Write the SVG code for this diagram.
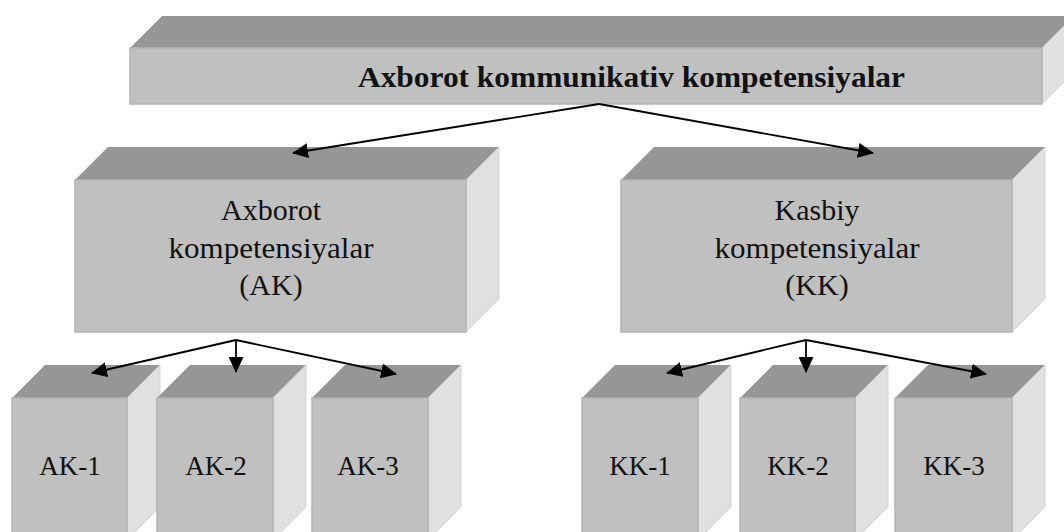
<svg xmlns="http://www.w3.org/2000/svg" width="1064" height="532" viewBox="0 0 1064 532">
<style>
.top{fill:#969696}
.front{fill:#c0c0c0;stroke:#b3b3b3;stroke-width:1.5}
.side{fill:#e0e0e0;stroke:#d4d4d4;stroke-width:1}
.lbl{font-family:"Liberation Serif","Times New Roman",serif;fill:#111;text-anchor:middle}
.mid{font-size:30px}
.sm{font-size:27px}
.conn line{stroke:#000;stroke-width:1.8;fill:none;marker-end:url(#arr)}
</style>
<defs>
<marker id="arr" viewBox="0 0 16 15" refX="15" refY="7.5" markerWidth="16" markerHeight="15" markerUnits="userSpaceOnUse" orient="auto">
<path d="M0,0 L16,7.5 L0,15 z" fill="#000"/>
</marker>
</defs>
<rect width="1064" height="532" fill="#fff"/>

<g id="node-root">
<polygon class="top" points="130,48 162,16 1074,16 1042,48"/>
<polygon class="side" points="1042,48 1074,16 1074,72 1042,104"/>
<rect class="front" x="130" y="48" width="912" height="56"/>
<text class="lbl" x="358" y="87" font-size="29" font-weight="bold" style="text-anchor:start" textLength="547" lengthAdjust="spacingAndGlyphs">Axborot kommunikativ kompetensiyalar</text>
</g>

<g id="node-ak">
<polygon class="top" points="75,180 108,147 499,147 466,180"/>
<polygon class="side" points="466,180 499,147 499,299 466,332"/>
<rect class="front" x="75" y="180" width="391" height="152"/>
<text class="lbl mid" x="271" y="220">Axborot</text>
<text class="lbl mid" x="271" y="258" textLength="205" lengthAdjust="spacingAndGlyphs">kompetensiyalar</text>
<text class="lbl mid" x="271" y="295">(AK)</text>
</g>

<g id="node-kk">
<polygon class="top" points="621,180 654,147 1045,147 1012,180"/>
<polygon class="side" points="1012,180 1045,147 1045,299 1012,332"/>
<rect class="front" x="621" y="180" width="391" height="152"/>
<text class="lbl mid" x="817" y="220">Kasbiy</text>
<text class="lbl mid" x="817" y="258" textLength="205" lengthAdjust="spacingAndGlyphs">kompetensiyalar</text>
<text class="lbl mid" x="817" y="295">(KK)</text>
</g>

<g id="node-ak1">
<polygon class="top" points="12,398 45,365 160,365 127,398"/>
<polygon class="side" points="127,398 160,365 160,507 127,540"/>
<rect class="front" x="12" y="398" width="115" height="142"/>
<text class="lbl sm" x="70" y="475">AK-1</text>
</g>
<g id="node-ak2">
<polygon class="top" points="157,398 190,365 306,365 273,398"/>
<polygon class="side" points="273,398 306,365 306,507 273,540"/>
<rect class="front" x="157" y="398" width="116" height="142"/>
<text class="lbl sm" x="216" y="475">AK-2</text>
</g>
<g id="node-ak3">
<polygon class="top" points="312,398 345,365 461,365 428,398"/>
<polygon class="side" points="428,398 461,365 461,507 428,540"/>
<rect class="front" x="312" y="398" width="116" height="142"/>
<text class="lbl sm" x="368" y="475">AK-3</text>
</g>

<g id="node-kk1">
<polygon class="top" points="582,398 615,365 731,365 698,398"/>
<polygon class="side" points="698,398 731,365 731,507 698,540"/>
<rect class="front" x="582" y="398" width="116" height="142"/>
<text class="lbl sm" x="640" y="475">KK-1</text>
</g>
<g id="node-kk2">
<polygon class="top" points="740,398 773,365 888,365 855,398"/>
<polygon class="side" points="855,398 888,365 888,507 855,540"/>
<rect class="front" x="740" y="398" width="115" height="142"/>
<text class="lbl sm" x="798" y="475">KK-2</text>
</g>
<g id="node-kk3">
<polygon class="top" points="895,398 928,365 1045,365 1012,398"/>
<polygon class="side" points="1012,398 1045,365 1045,507 1012,540"/>
<rect class="front" x="895" y="398" width="117" height="142"/>
<text class="lbl sm" x="954" y="475">KK-3</text>
</g>

<g id="connectors" class="conn">
<line x1="599" y1="104" x2="293" y2="153"/>
<line x1="599" y1="104" x2="873" y2="153"/>
<line x1="236" y1="340" x2="92" y2="373"/>
<line x1="236" y1="340" x2="236" y2="372"/>
<line x1="236" y1="340" x2="396" y2="374"/>
<line x1="806" y1="340" x2="667" y2="373"/>
<line x1="806" y1="340" x2="806" y2="372"/>
<line x1="806" y1="340" x2="986" y2="374"/>
</g>
</svg>
